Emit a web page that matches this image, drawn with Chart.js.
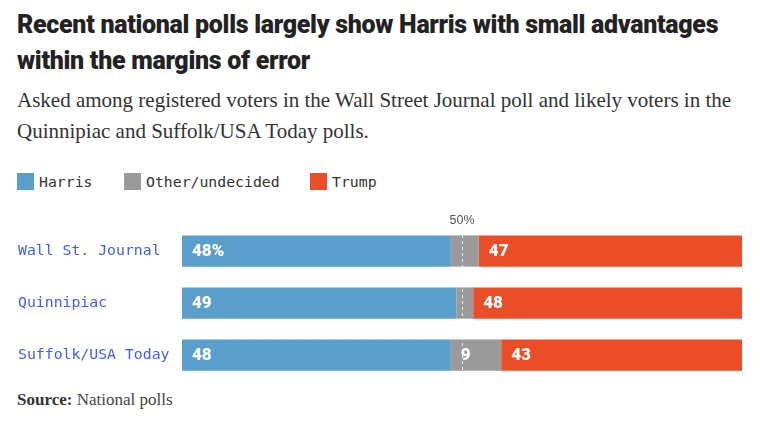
<!DOCTYPE html>
<html>
<head>
<meta charset="utf-8">
<script src="https://cdn.jsdelivr.net/npm/chart.js@4"></script>
<style>
  body { margin: 0; background: #fff; width: 760px; height: 422px; overflow: hidden; position: relative; }
  .title { position: absolute; left: 17px; top: 7px; width: 745px; font-family: Roboto, sans-serif; font-weight: 900;
           font-size: 25px; line-height: 36px; color: #222; letter-spacing: -0.3px; }
  .sub { position: absolute; left: 17px; top: 85px; width: 740px; font-family: "Liberation Serif", serif;
         font-size: 21px; line-height: 31px; color: #333; }
  .legend { position: absolute; left: 17px; top: 173px; font-family: "DejaVu Sans Mono", monospace; font-size: 14.8px; color: #333; }
  .legend span.item { position: absolute; white-space: nowrap; line-height: 18px; }
  .legend i { display: inline-block; width: 17px; height: 17px; vertical-align: top; margin-right: 5px; }
  .source { position: absolute; left: 17px; top: 390px; font-family: "Liberation Serif", serif; font-size: 17px; color: #444; }
  .source b { color: #333; }
  #wrap { position: absolute; left: 0; top: 200px; width: 760px; height: 190px; }
</style>
</head>
<body>
<div class="title">Recent national polls largely show Harris with small advantages<br>within the margins of error</div>
<div class="sub">Asked among registered voters in the Wall Street Journal poll and likely voters in the Quinnipiac and Suffolk/USA Today polls.</div>
<div class="legend" id="legend"></div>
<div id="wrap"><canvas id="pollChart"></canvas></div>
<div class="source"><b>Source:</b> National polls</div>

<script>
// Poll data
const polls = ['Wall St. Journal', 'Quinnipiac', 'Suffolk/USA Today'];
const harris = [48, 49, 48];
const other = [5, 3, 9];
const trump = [47, 48, 43];
const seriesNames = ['Harris', 'Other/undecided', 'Trump'];
const seriesColors = ['#5a9ecc', '#9a9a9a', '#ea4e28'];
const legendX = [0, 107, 293];

// Build legend
const legend = document.getElementById('legend');
seriesNames.forEach((name, i) => {
    const item = document.createElement('span');
    item.className = 'item';
    item.style.left = legendX[i] + 'px';
    item.innerHTML = '<i style="background:' + seriesColors[i] + '"></i>' + name;
    legend.appendChild(item);
});

// Labels inside bars + 50% marker
const barLabels = {
    id: 'barLabels',
    afterDatasetsDraw(chart) {
        const ctx = chart.ctx;
        const xs = chart.scales.x;
        const area = chart.chartArea;
        const mid = xs.getPixelForValue(50);

        // dashed 50% line
        ctx.save();
        ctx.strokeStyle = 'rgba(255,255,255,0.8)';
        ctx.lineWidth = 1;
        ctx.setLineDash([3, 3]);
        ctx.beginPath();
        ctx.moveTo(mid + 0.5, area.top + 10);
        ctx.lineTo(mid + 0.5, area.bottom - 10);
        ctx.stroke();
        ctx.restore();

        ctx.save();
        ctx.fillStyle = '#555';
        ctx.font = '12.5px "Liberation Sans", Arial, sans-serif';
        ctx.textAlign = 'center';
        ctx.textBaseline = 'alphabetic';
        ctx.fillText('50%', mid, area.top - 1);

        ctx.fillStyle = '#fff';
        ctx.font = '900 17px Roboto, sans-serif';
        ctx.textBaseline = 'middle';
        ctx.textAlign = 'left';
        chart.data.datasets.forEach((ds, di) => {
            const meta = chart.getDatasetMeta(di);
            meta.data.forEach((bar, i) => {
                let text = null;
                if (di === 0) text = harris[i] + (i === 0 ? '%' : '');
                if (di === 1 && other[i] >= 5 && i === 2) text = String(other[i]);
                if (di === 2) text = String(trump[i]);
                if (!text) return;
                const left = Math.min(bar.x, bar.base);
                ctx.fillText(text, left + 10, bar.y + 1);
            });
        });
        ctx.restore();
    }
};

const ctx = document.getElementById('pollChart').getContext('2d');
const pollChart = new Chart(ctx, {
    type: 'bar',
    data: {
        labels: polls,
        datasets: [
            { label: seriesNames[0], data: harris, backgroundColor: seriesColors[0] },
            { label: seriesNames[1], data: other, backgroundColor: seriesColors[1] },
            { label: seriesNames[2], data: trump, backgroundColor: seriesColors[2] }
        ]
    },
    options: {
        indexAxis: 'y',
        responsive: true,
        maintainAspectRatio: false,
        animation: false,
        barPercentage: 0.6,
        categoryPercentage: 1,
        layout: { padding: { left: 18, right: 18, top: 25, bottom: 4 } },
        scales: {
            x: {
                stacked: true,
                min: 0,
                max: 100,
                display: false
            },
            y: {
                stacked: true,
                grid: { display: false },
                border: { display: false },
                afterFit(scale) { scale.width = 164; },
                ticks: {
                    crossAlign: 'far',
                    color: '#3f5cf5',
                    padding: 0,
                    font: { family: '"DejaVu Sans Mono", monospace', size: 14.8 }
                }
            }
        },
        plugins: {
            legend: { display: false },
            tooltip: { enabled: false }
        }
    },
    plugins: [barLabels]
});
</script>
</body>
</html>
